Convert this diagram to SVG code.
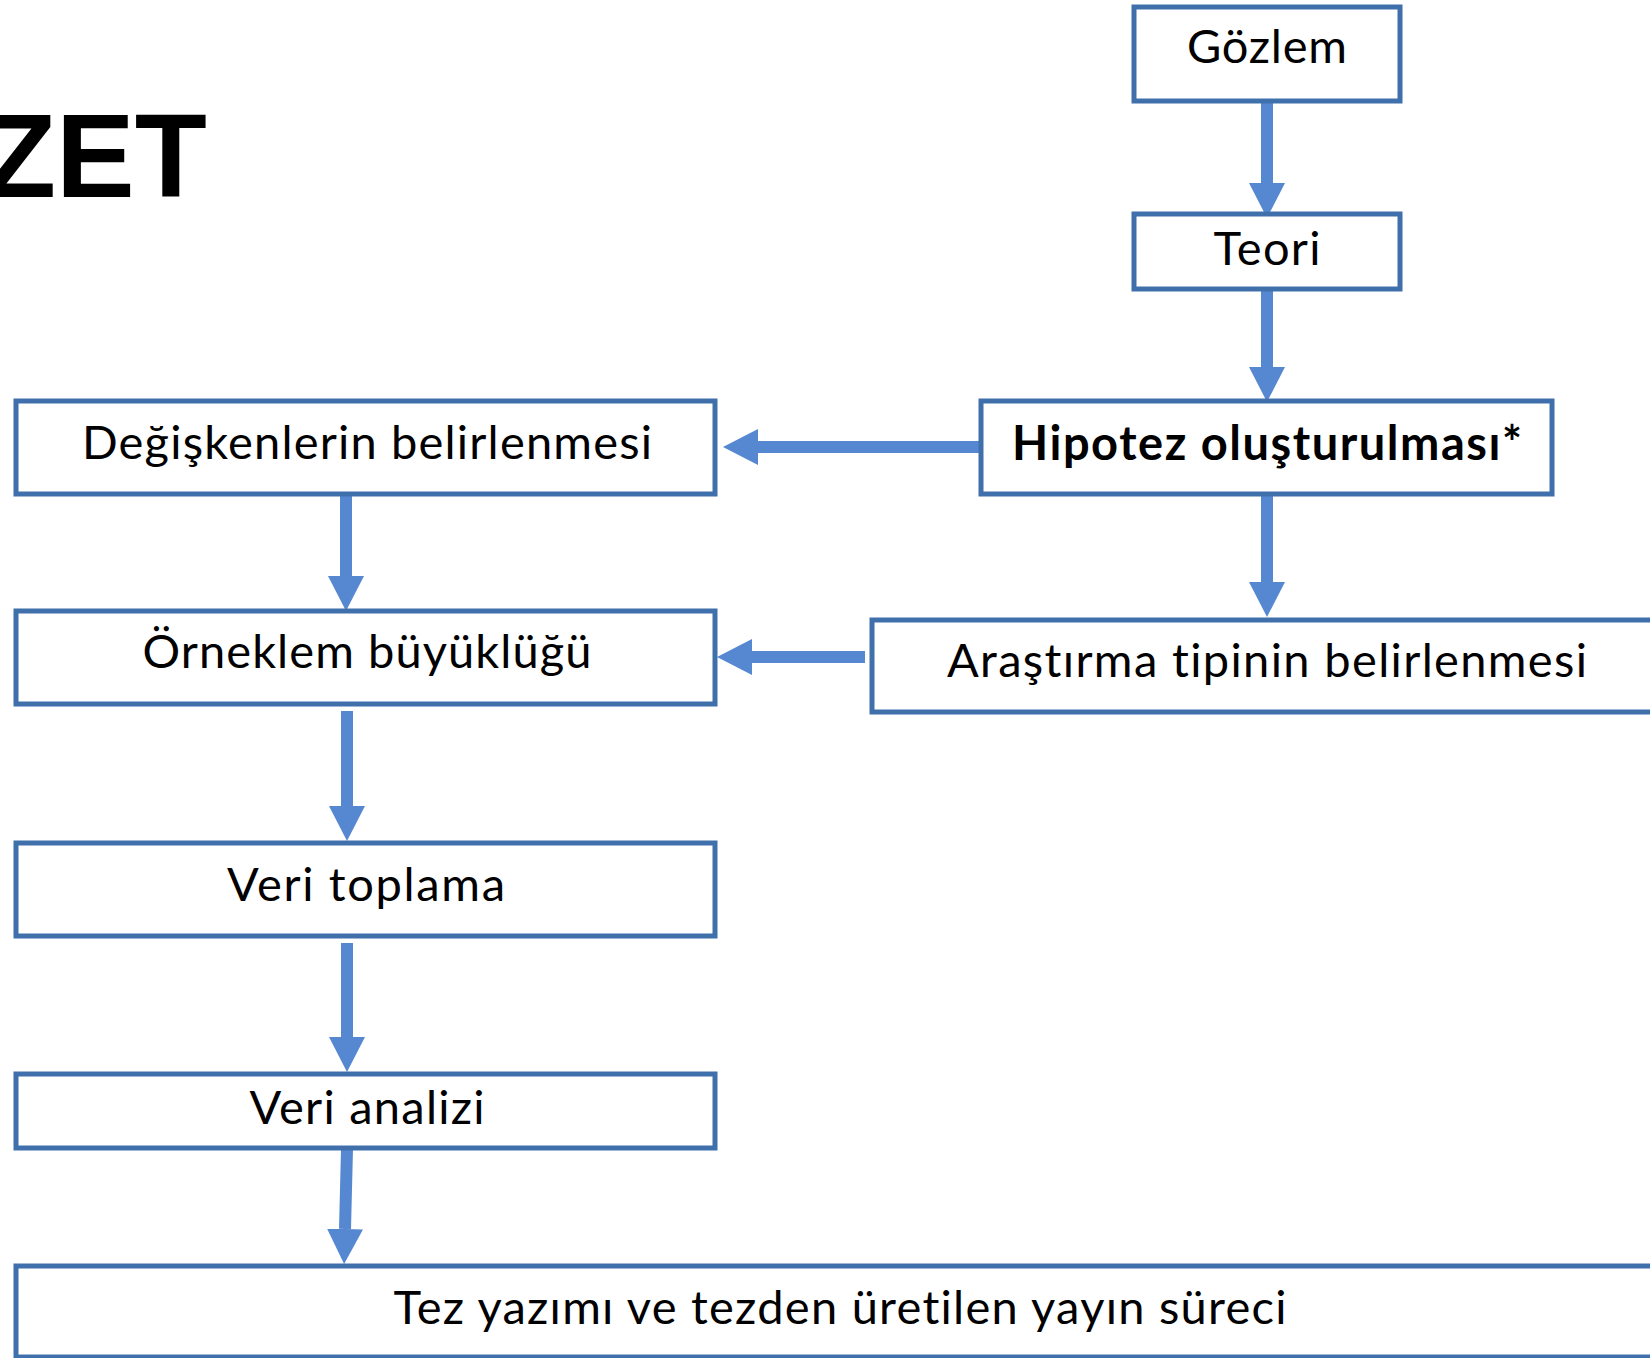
<svg xmlns="http://www.w3.org/2000/svg" width="1650" height="1358" viewBox="0 0 1650 1358">
<style>
.box{fill:#ffffff;stroke:#4070AB;stroke-width:5}
.lbl{font-family:Lato,"Open Sans","Liberation Sans",sans-serif;font-size:47px;fill:#000;text-anchor:middle;font-variant-ligatures:none}
.b{font-weight:bold}
.con{stroke:#5688D2;stroke-width:12;fill:none}
.title{font-family:"Liberation Sans",Arial,sans-serif;font-weight:bold;font-size:118px;fill:#000}
</style>
<defs>
<marker id="ah" markerUnits="userSpaceOnUse" markerWidth="35" markerHeight="36" viewBox="0 0 35 36" refX="0" refY="18" orient="auto">
<path d="M0,0 L35,18 L0,36 z" fill="#5688D2"/>
</marker>
</defs>
<rect width="1650" height="1358" fill="#ffffff"/>
<text class="title" x="-16" y="197">ZET</text>
<g id="connectors">
<line class="con" x1="1267" y1="103" x2="1267" y2="183" marker-end="url(#ah)"/>
<line class="con" x1="1267" y1="291" x2="1267" y2="367" marker-end="url(#ah)"/>
<line class="con" x1="980" y1="447" x2="758" y2="447" marker-end="url(#ah)"/>
<line class="con" x1="1267" y1="496" x2="1267" y2="582" marker-end="url(#ah)"/>
<line class="con" x1="865" y1="657" x2="752" y2="657" marker-end="url(#ah)"/>
<line class="con" x1="346" y1="496" x2="346" y2="576" marker-end="url(#ah)"/>
<line class="con" x1="347" y1="711" x2="347" y2="806" marker-end="url(#ah)"/>
<line class="con" x1="347" y1="943" x2="347" y2="1037" marker-end="url(#ah)"/>
<line class="con" x1="347" y1="1149" x2="345" y2="1229" marker-end="url(#ah)"/>
</g>
<g id="gozlem"><rect class="box" x="1134" y="7" width="266" height="94"/><text class="lbl" x="1267" y="63" textLength="160">Gözlem</text></g>
<g id="teori"><rect class="box" x="1134" y="214" width="266" height="75"/><text class="lbl" x="1267" y="265" textLength="107">Teori</text></g>
<g id="hipotez"><rect class="box" x="981" y="401" width="571" height="93"/><text class="lbl b" x="1267" y="460" textLength="510">Hipotez oluşturulması*</text></g>
<g id="degiskenler"><rect class="box" x="16" y="401" width="699" height="93"/><text class="lbl" x="367" y="459" textLength="570">Değişkenlerin belirlenmesi</text></g>
<g id="arastirma"><rect class="box" x="872" y="620" width="800" height="92"/><text class="lbl" x="1267" y="677" textLength="640">Araştırma tipinin belirlenmesi</text></g>
<g id="orneklem"><rect class="box" x="16" y="611" width="699" height="93"/><text class="lbl" x="367" y="668" textLength="449">Örneklem büyüklüğü</text></g>
<g id="veritoplama"><rect class="box" x="16" y="843" width="699" height="93"/><text class="lbl" x="366" y="901" textLength="278">Veri toplama</text></g>
<g id="verianalizi"><rect class="box" x="16" y="1074" width="699" height="74"/><text class="lbl" x="367" y="1124" textLength="235">Veri analizi</text></g>
<g id="tez"><rect class="box" x="16" y="1266" width="1660" height="91"/><text class="lbl" x="840" y="1324" textLength="893">Tez yazımı ve tezden üretilen yayın süreci</text></g>
</svg>
